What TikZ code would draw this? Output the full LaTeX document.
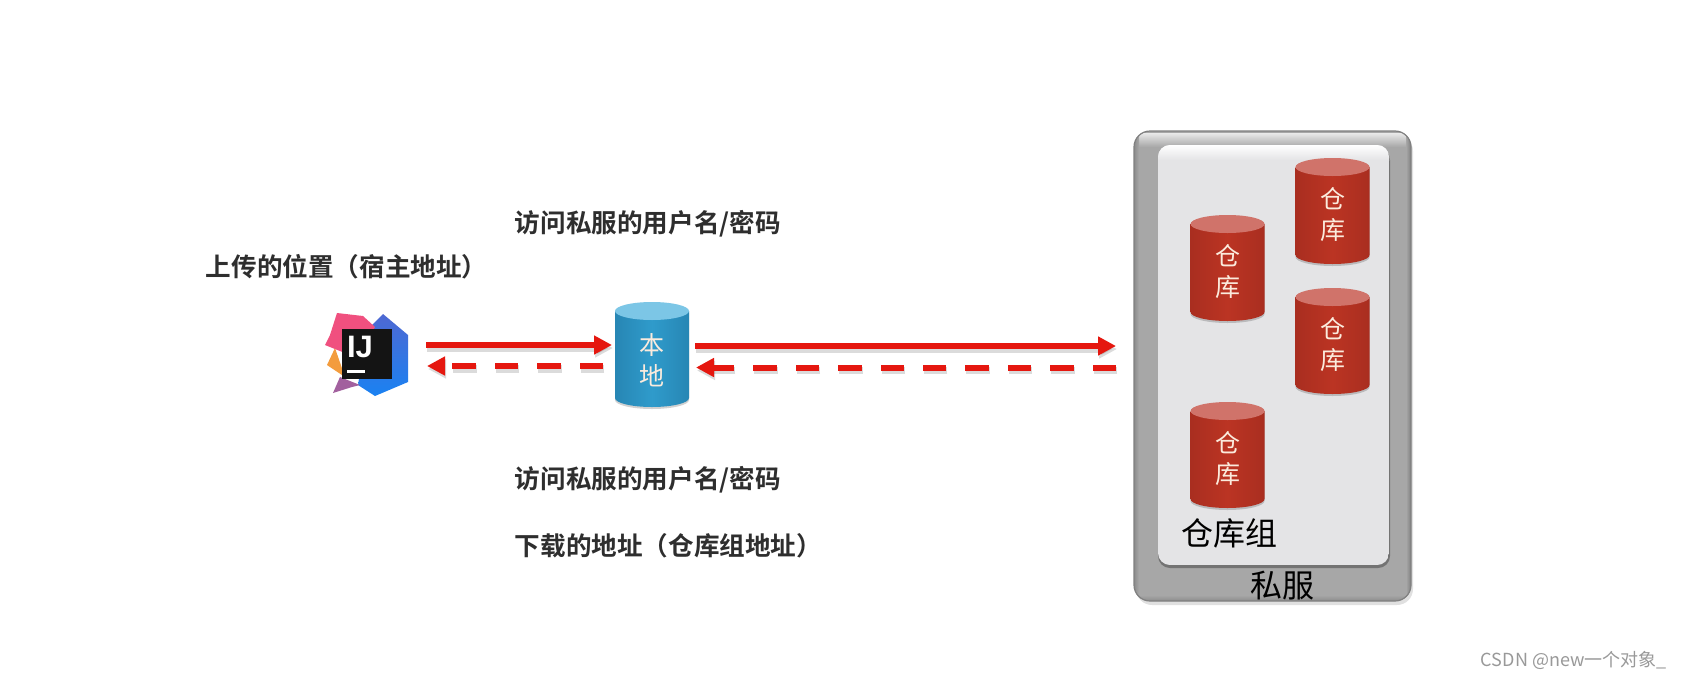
\documentclass[tikz,border=0pt]{standalone}
\usepackage{fontspec}
\usetikzlibrary{arrows.meta,calc}
\setmainfont{Liberation Sans}
\newfontfamily\cjk{Noto Sans CJK SC}
\newfontfamily\cjkb{Noto Sans CJK SC Bold}
\definecolor{arrowred}{HTML}{E5170F}
\definecolor{boxgray}{HTML}{A7A7A7}
\definecolor{innergray}{HTML}{E4E4E6}
\definecolor{redbody}{HTML}{BB3423}
\definecolor{reddark}{HTML}{A92E20}
\definecolor{redtop}{HTML}{D0736A}
\definecolor{bluebody}{HTML}{2F9BCB}
\definecolor{bluedark}{HTML}{2786B4}
\definecolor{bluetop}{HTML}{7CC6E6}
\definecolor{cream}{HTML}{FBEBDD}
\definecolor{logoblueA}{HTML}{4E68D2}
\definecolor{logoblueB}{HTML}{1A82F2}
\definecolor{logoorange}{HTML}{F39C3D}
\definecolor{logopurple}{HTML}{A2609E}
\definecolor{logopink}{HTML}{F0507F}
\tikzset{
  boldlabel/.style={font=\cjkb\fontsize{12.8pt}{15pt}\selectfont,text=black!82,anchor=west,inner sep=0pt},
  plainlabel/.style={font=\cjk\fontsize{16pt}{18pt}\selectfont,text=black,inner sep=0pt},
  cyltext/.style={font=\cjk\fontsize{12.5pt}{15.5pt}\selectfont,text=cream,align=center,inner sep=0pt},
  mainarrow/.style={draw=arrowred,line width=3pt,-{Triangle[length=9pt,width=9pt]}},
  backarrow/.style={draw=arrowred,line width=3pt,dash pattern=on 11.7pt off 9.5pt,-{Triangle[length=9pt,width=9pt]}},
  arrowshadow/.style={draw=black,opacity=.14,line width=3.6pt,-{Triangle[length=9pt,width=9pt]}},
}
% name, centre x, top y, height, dark, body, top, text, text centre offset
\newcommand{\dbcyl}[9]{%
  \fill[black,opacity=.18] (#2-37,#3+9+2) -- (#2-37,#3+#4-7) arc[x radius=37,y radius=9,start angle=180,end angle=0] -- (#2+37,#3+9+2) -- cycle;
  \shade[left color=#5,right color=#5,middle color=#6]
     (#2-37,#3+9) -- (#2-37,#3+#4-9) arc[x radius=37,y radius=9,start angle=180,end angle=0] -- (#2+37,#3+9) -- cycle;
  \fill[#7] (#2,#3+9) ellipse[x radius=37,y radius=9];
  \node[cyltext] (#1a) at (#2,#3+#9) {#8};
}
\begin{document}
\begin{tikzpicture}[x=0.5pt,y=-0.5pt]
\useasboundingbox (0,0) rectangle (1695,680);
\fill[white] (0,0) rectangle (1695,680);

% outer server box
\fill[black,opacity=.12,rounded corners=8pt] (1136,135) rectangle (1413,605);
\begin{scope}
  \clip[rounded corners=8pt] (1134,131) rectangle (1411,601);
  \fill[boxgray] (1134,131) rectangle (1411,601);
  \shade[top color=white!75!boxgray,bottom color=boxgray] (1134,133) rectangle (1411,147);
  \shade[left color=black!45,right color=boxgray] (1134,131) rectangle (1139,601);
  \shade[left color=boxgray,right color=black!50] (1406,131) rectangle (1411,601);
  \shade[top color=boxgray,bottom color=black!45] (1134,595) rectangle (1411,601);
\end{scope}
\draw[black!50,line width=.6pt,rounded corners=8pt] (1134,131) rectangle (1411,601);

% inner group box
\fill[black!55,rounded corners=6pt] (1158,148) rectangle (1390,568);
\begin{scope}
  \clip[rounded corners=6pt] (1158,145) rectangle (1389,565);
  \fill[innergray] (1158,145) rectangle (1389,565);
  \shade[top color=white,bottom color=innergray] (1158,145) rectangle (1389,160);
\end{scope}

% repositories
\dbcyl{ra}{1227.5}{215}{106}{reddark}{redbody}{redtop}{仓\\库}{56.5}
\dbcyl{rb}{1332.5}{158}{106}{reddark}{redbody}{redtop}{仓\\库}{56.5}
\dbcyl{rc}{1332.5}{288}{106}{reddark}{redbody}{redtop}{仓\\库}{56.5}
\dbcyl{rd}{1227.5}{402}{106}{reddark}{redbody}{redtop}{仓\\库}{56.5}

% local repository
\dbcyl{local}{652}{302}{105}{bluedark}{bluebody}{bluetop}{本\\地}{58}

% IntelliJ logo
\begin{scope}
  \shade[top color=logoblueA,bottom color=logoblueB] (383,314) -- (408,335) -- (408,382) -- (375,396) -- (358,385) -- (367,330) -- cycle;
  \fill[logoorange] (327,365) -- (335,348) -- (345,377) -- cycle;
  \fill[logopurple] (333,393) -- (340,377) -- (360,385) -- (352,387) -- cycle;
  \fill[logopink] (337,313) -- (363,316) -- (375,327) -- (355,357) -- (325,345) -- (330,335) -- cycle;
  \node[fill=black!92,minimum size=25pt,inner sep=0pt] (ij) at (366.7,354.3) {};
  \node[font=\bfseries\fontsize{15.5pt}{17pt}\selectfont,text=white,inner sep=0pt,anchor=center] (ijt) at (360,346.5) {IJ};
  \fill[white] (347,369.5) rectangle (365,372.5);
\end{scope}

% arrow anchors
\coordinate (a1s) at (426,345);
\coordinate (a1e) at (612,345);
\coordinate (b1s) at (603,366);
\coordinate (b1e) at (427,366);
\coordinate (a2s) at (695,346);
\coordinate (a2e) at (1116,346);
\coordinate (b2s) at (1116,367.5);
\coordinate (b2e) at (696,367.5);

\draw[arrowshadow] ($(a1s)+(1,3)$) -- ($(a1e)+(1,3)$);
\draw[arrowshadow] ($(a2s)+(1,3)$) -- ($(a2e)+(1,3)$);
\draw[arrowshadow,dash pattern=on 11.7pt off 9.5pt] ($(b1s)+(1,3)$) -- ($(b1e)+(1,3)$);
\draw[arrowshadow,dash pattern=on 11.7pt off 9.5pt] ($(b2s)+(1,3)$) -- ($(b2e)+(1,3)$);
\draw[mainarrow] (a1s) -- (a1e);
\draw[backarrow] (b1s) -- (b1e);
\draw[mainarrow] (a2s) -- (a2e);
\draw[backarrow] (b2s) -- (b2e);

% labels
\node[boldlabel] (l1) at (514.5,224) {访问私服的用户名/密码};
\node[boldlabel] (l2) at (205.5,267) {上传的位置（宿主地址）};
\node[boldlabel] (l3) at (514.5,480) {访问私服的用户名/密码};
\node[boldlabel] (l4) at (514.5,546) {下载的地址（仓库组地址）};
\node[plainlabel] (g) at (1229,533) {仓库组};
\node[plainlabel] (s) at (1282,586) {私服};
\node[font=\cjk\fontsize{9pt}{11pt}\selectfont,text=black!40,anchor=east,inner sep=0pt] (w) at (1667,660) {CSDN @new一个对象\_};
\end{tikzpicture}
\end{document}
